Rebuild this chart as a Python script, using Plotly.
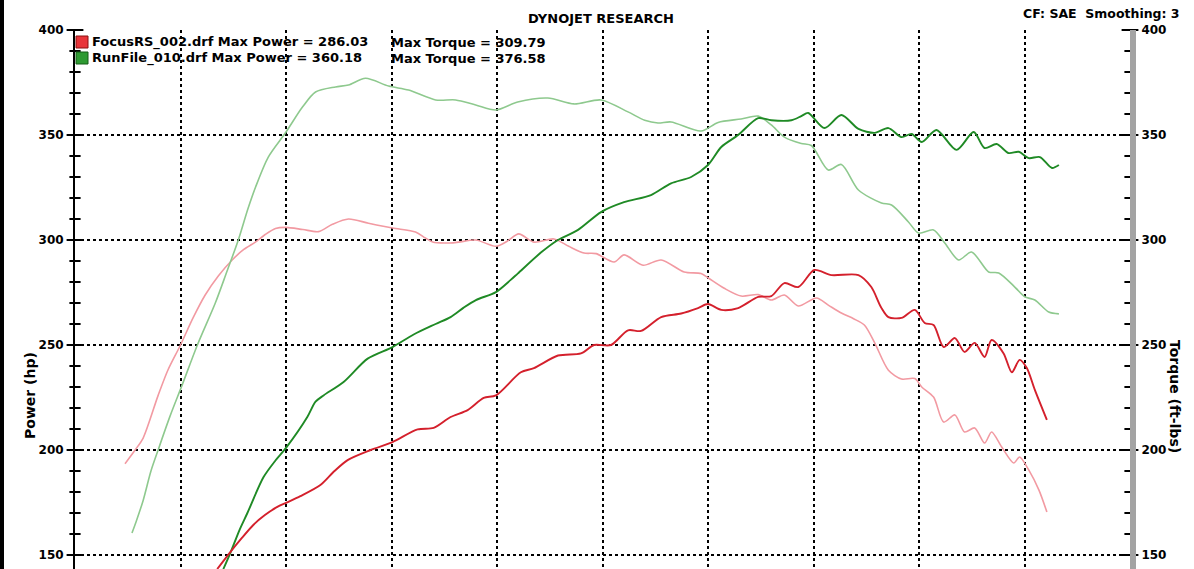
import plotly.graph_objects as go

# ---- data (RPM vs value) ----
rs_tq_rpm = [2237,2285,2323,2394,2440,2500,2560,2617,2680,2745,2800,2855,2900,2950,3000,3080,3154,3220,3296,3391,3505,3614,3660,3695,3780,3819,3900,3995,4050,4103,4175,4270,4340,4412,4470,4555,4602,4692,4778,4887,4967,5000,5077,5157,5238,5300,5362,5428,5514,5570,5632,5690,5741,5790,5855,5917,5980,6013,6069,6117,6170,6216,6264,6311,6344,6392,6449,6477,6520,6568,6606]
rs_tq = [193.5,200,205.7,226,238,250,263,273.8,283,290.5,295.5,299,302.5,305.5,306,305,304,307.5,310,308,305.7,303.8,301,299,298.6,299,300,297,299.5,302.9,299,300.5,297,293.8,293.5,289.5,292.9,288,290.5,284.8,284,282,277,273.3,274,271.4,273.8,268.6,272.4,269,265.2,262.5,259.5,251,238,233.8,234,230,225.2,213.3,216.7,208.6,210.5,203.3,208.6,201.4,193.8,196.7,190.5,181,170.5]

rf_tq_rpm = [2270,2290,2323,2360,2394,2450,2508,2580,2665,2720,2774,2820,2855,2916,3000,3078,3140,3235,3296,3377,3486,3581,3709,3804,3899,3995,4098,4241,4365,4493,4621,4700,4763,4825,4967,5048,5157,5238,5300,5362,5442,5490,5570,5632,5713,5822,5870,5950,5998,6069,6122,6188,6249,6330,6378,6454,6501,6549,6615,6663]
rf_tq = [160.5,166,176,190,200,216,231,250,270,285,300,315,325,339.5,351.4,363.3,370.5,372.9,373.8,377,373.3,371.4,366.7,366.7,364.3,361.9,365.7,367.6,364.8,366.7,361,357,355.7,356.2,351.9,356,357.6,359,354.8,349,346,345,333.3,336,323.8,317.6,316.7,308.6,303.3,304.8,298.6,290.5,294.3,284.8,284.3,277.6,273,271.4,265.7,264.8]

rf_hp_rpm = [2703,2736,2780,2817,2893,2950,3000,3101,3140,3178,3273,3387,3505,3605,3709,3780,3842,3900,3995,4065,4098,4208,4289,4384,4493,4602,4730,4825,4920,5000,5063,5143,5238,5300,5395,5442,5475,5552,5632,5713,5790,5855,5917,5965,6013,6083,6178,6259,6311,6368,6425,6473,6520,6573,6630,6663]
rf_hp = [143.3,150.9,162,170,187,195,201,215.7,223,226,232.4,243.5,249,255,260,263.3,267.8,271.4,275.2,281,284,294,300,304.8,313.3,318,321.4,327,330,335.7,344.3,350,358,357,357,359,360.5,353.3,359.5,352.9,351,353.3,349,350.5,346.7,352.4,342.9,351.4,343.8,345.7,341.4,342,339,339.5,334.3,335.7]

rs_hp_rpm = [2674,2736,2790,2845,2900,2959,3000,3068,3163,3230,3292,3401,3505,3624,3700,3780,3861,3937,3995,4113,4175,4289,4398,4460,4540,4621,4683,4778,4873,4953,5000,5063,5143,5238,5300,5362,5428,5504,5585,5713,5774,5820,5855,5917,5980,6027,6069,6117,6170,6216,6264,6311,6344,6401,6440,6477,6511,6549,6606]
rs_hp = [143.3,151.4,158,164.3,169,172.9,174.8,178,183.3,190,195.2,200,203.8,209.8,210.5,215.7,219,224.8,226,237,239,245,246,250,250,257,256.7,263.3,265,267.6,269.5,266.7,267.6,272.9,273.3,279.5,277.6,285.7,283.3,283.3,277.6,268,263.3,262.9,266.7,260.5,259.5,249,253.3,246.7,251,244.3,252.4,246,237,242.9,239,228.6,214.3]

major_ticks = [150, 200, 250, 300, 350, 400]
minor_ticks = [150 + 10 * i for i in range(26) if (150 + 10 * i) % 50 != 0]
x_edges = [2000, 7000]
legend_rows = [
    ("FocusRS_002.drf Max Power = 286.03", "Max Torque = 309.79"),
    ("RunFile_010.drf Max Power = 360.18", "Max Torque = 376.58"),
]

# ---- styling ----
W, H = 1194, 569
L, R, T, B = 75, 64, 30, 0
PW, PH = W - L - R, H - T - B
FONT = "DejaVu Sans"
def px2paper_x(px): return (px - L) / PW
def px2paper_y(py): return (H - B - py) / PH

C_RS_HP = "#d4202c"
C_RS_TQ = "#f29aa2"
C_RF_HP = "#1f8a25"
C_RF_TQ = "#8ec98e"

fig = go.Figure()
fig.add_trace(go.Scatter(x=rs_tq_rpm, y=rs_tq, mode="lines", line=dict(color=C_RS_TQ, width=1.6, shape="spline", smoothing=0.8)))
fig.add_trace(go.Scatter(x=rf_tq_rpm, y=rf_tq, mode="lines", line=dict(color=C_RF_TQ, width=1.6, shape="spline", smoothing=0.8)))
fig.add_trace(go.Scatter(x=rf_hp_rpm, y=rf_hp, mode="lines", line=dict(color=C_RF_HP, width=1.9, shape="spline", smoothing=0.8)))
fig.add_trace(go.Scatter(x=rs_hp_rpm, y=rs_hp, mode="lines", line=dict(color=C_RS_HP, width=1.9, shape="spline", smoothing=0.8)))

# crossing tick marks on both vertical axes (axis decoration)
for vals, size in [(minor_ticks, 8), (major_ticks, 12)]:
    for xe in x_edges:
        fig.add_trace(go.Scatter(x=[xe] * len(vals), y=vals, mode="markers", cliponaxis=False,
                                 hoverinfo="skip",
                                 marker=dict(symbol="line-ew", size=size, color="black",
                                             line=dict(width=2, color="black"))))

yr = [400 - (H - T) / 2.1, 400]
tickfont = dict(family=FONT, size=12, color="black", weight="bold")

fig.update_layout(
    width=W, height=H,
    margin=dict(l=L, r=R, t=T, b=B, pad=0),
    paper_bgcolor="white", plot_bgcolor="white",
    showlegend=False,
    xaxis=dict(range=[2000, 7000], dtick=500, tick0=2000, showgrid=True, gridcolor="black",
               gridwidth=2, griddash="3px,3px", showticklabels=False, ticks="", zeroline=False,
               showline=False),
    yaxis=dict(range=yr, tickvals=major_ticks, showgrid=True, gridcolor="black", gridwidth=2,
               griddash="3px,3px", zeroline=False, ticks="outside", ticklen=7,
               tickcolor="rgba(0,0,0,0)", showline=True, linecolor="black", linewidth=2,
               tickfont=tickfont),
    yaxis2=dict(range=yr, tickvals=major_ticks, overlaying="y", side="right", anchor="x",
                showgrid=False, zeroline=False, ticks="outside", ticklen=3,
                tickcolor="rgba(0,0,0,0)", showline=True, linecolor="#a3a3a3", linewidth=6,
                tickfont=tickfont),
)
fig.add_trace(go.Scatter(x=[2000], y=[400], yaxis="y2", mode="markers",
                         marker=dict(size=1, color="rgba(0,0,0,0)"), hoverinfo="skip"))

ann = []
def add_text(text, px, py, size=12, xanchor="left", yanchor="middle", angle=0):
    ann.append(dict(text=text, x=px2paper_x(px), y=px2paper_y(py), xref="paper", yref="paper",
                    xanchor=xanchor, yanchor=yanchor, showarrow=False, textangle=angle,
                    font=dict(family=FONT, size=size, color="black", weight="bold")))

add_text("DYNOJET RESEARCH", 601, 18, size=13, xanchor="center")
add_text("CF: SAE&nbsp;&nbsp;Smoothing: 3", 1182, 14, size=12.5, xanchor="right")
add_text("Power (hp)", 30, 396, size=14, xanchor="center", angle=-90)
add_text("Torque (ft-lbs)", 1175, 396, size=14, xanchor="center", angle=90)
for i, (a, b) in enumerate(legend_rows):
    y = 42 + 16 * i
    add_text(a, 90, y, size=13)
    add_text(b, 389, y, size=13)
fig.update_layout(annotations=ann)

shapes = []
for i, (fc, lc) in enumerate([("#e8353a", "#8a1010"), ("#2e9a32", "#145c16")]):
    y0 = 36 + 16 * i
    shapes.append(dict(type="rect", xref="paper", yref="paper",
                       x0=px2paper_x(76), x1=px2paper_x(88), y0=px2paper_y(y0 + 12), y1=px2paper_y(y0),
                       fillcolor=fc, line=dict(color=lc, width=1)))
shapes.append(dict(type="rect", xref="paper", yref="paper", x0=px2paper_x(0), x1=px2paper_x(4),
                   y0=-0.1, y1=1.2, fillcolor="black", line=dict(width=0)))
fig.update_layout(shapes=shapes)

fig.write_html("out.html")
